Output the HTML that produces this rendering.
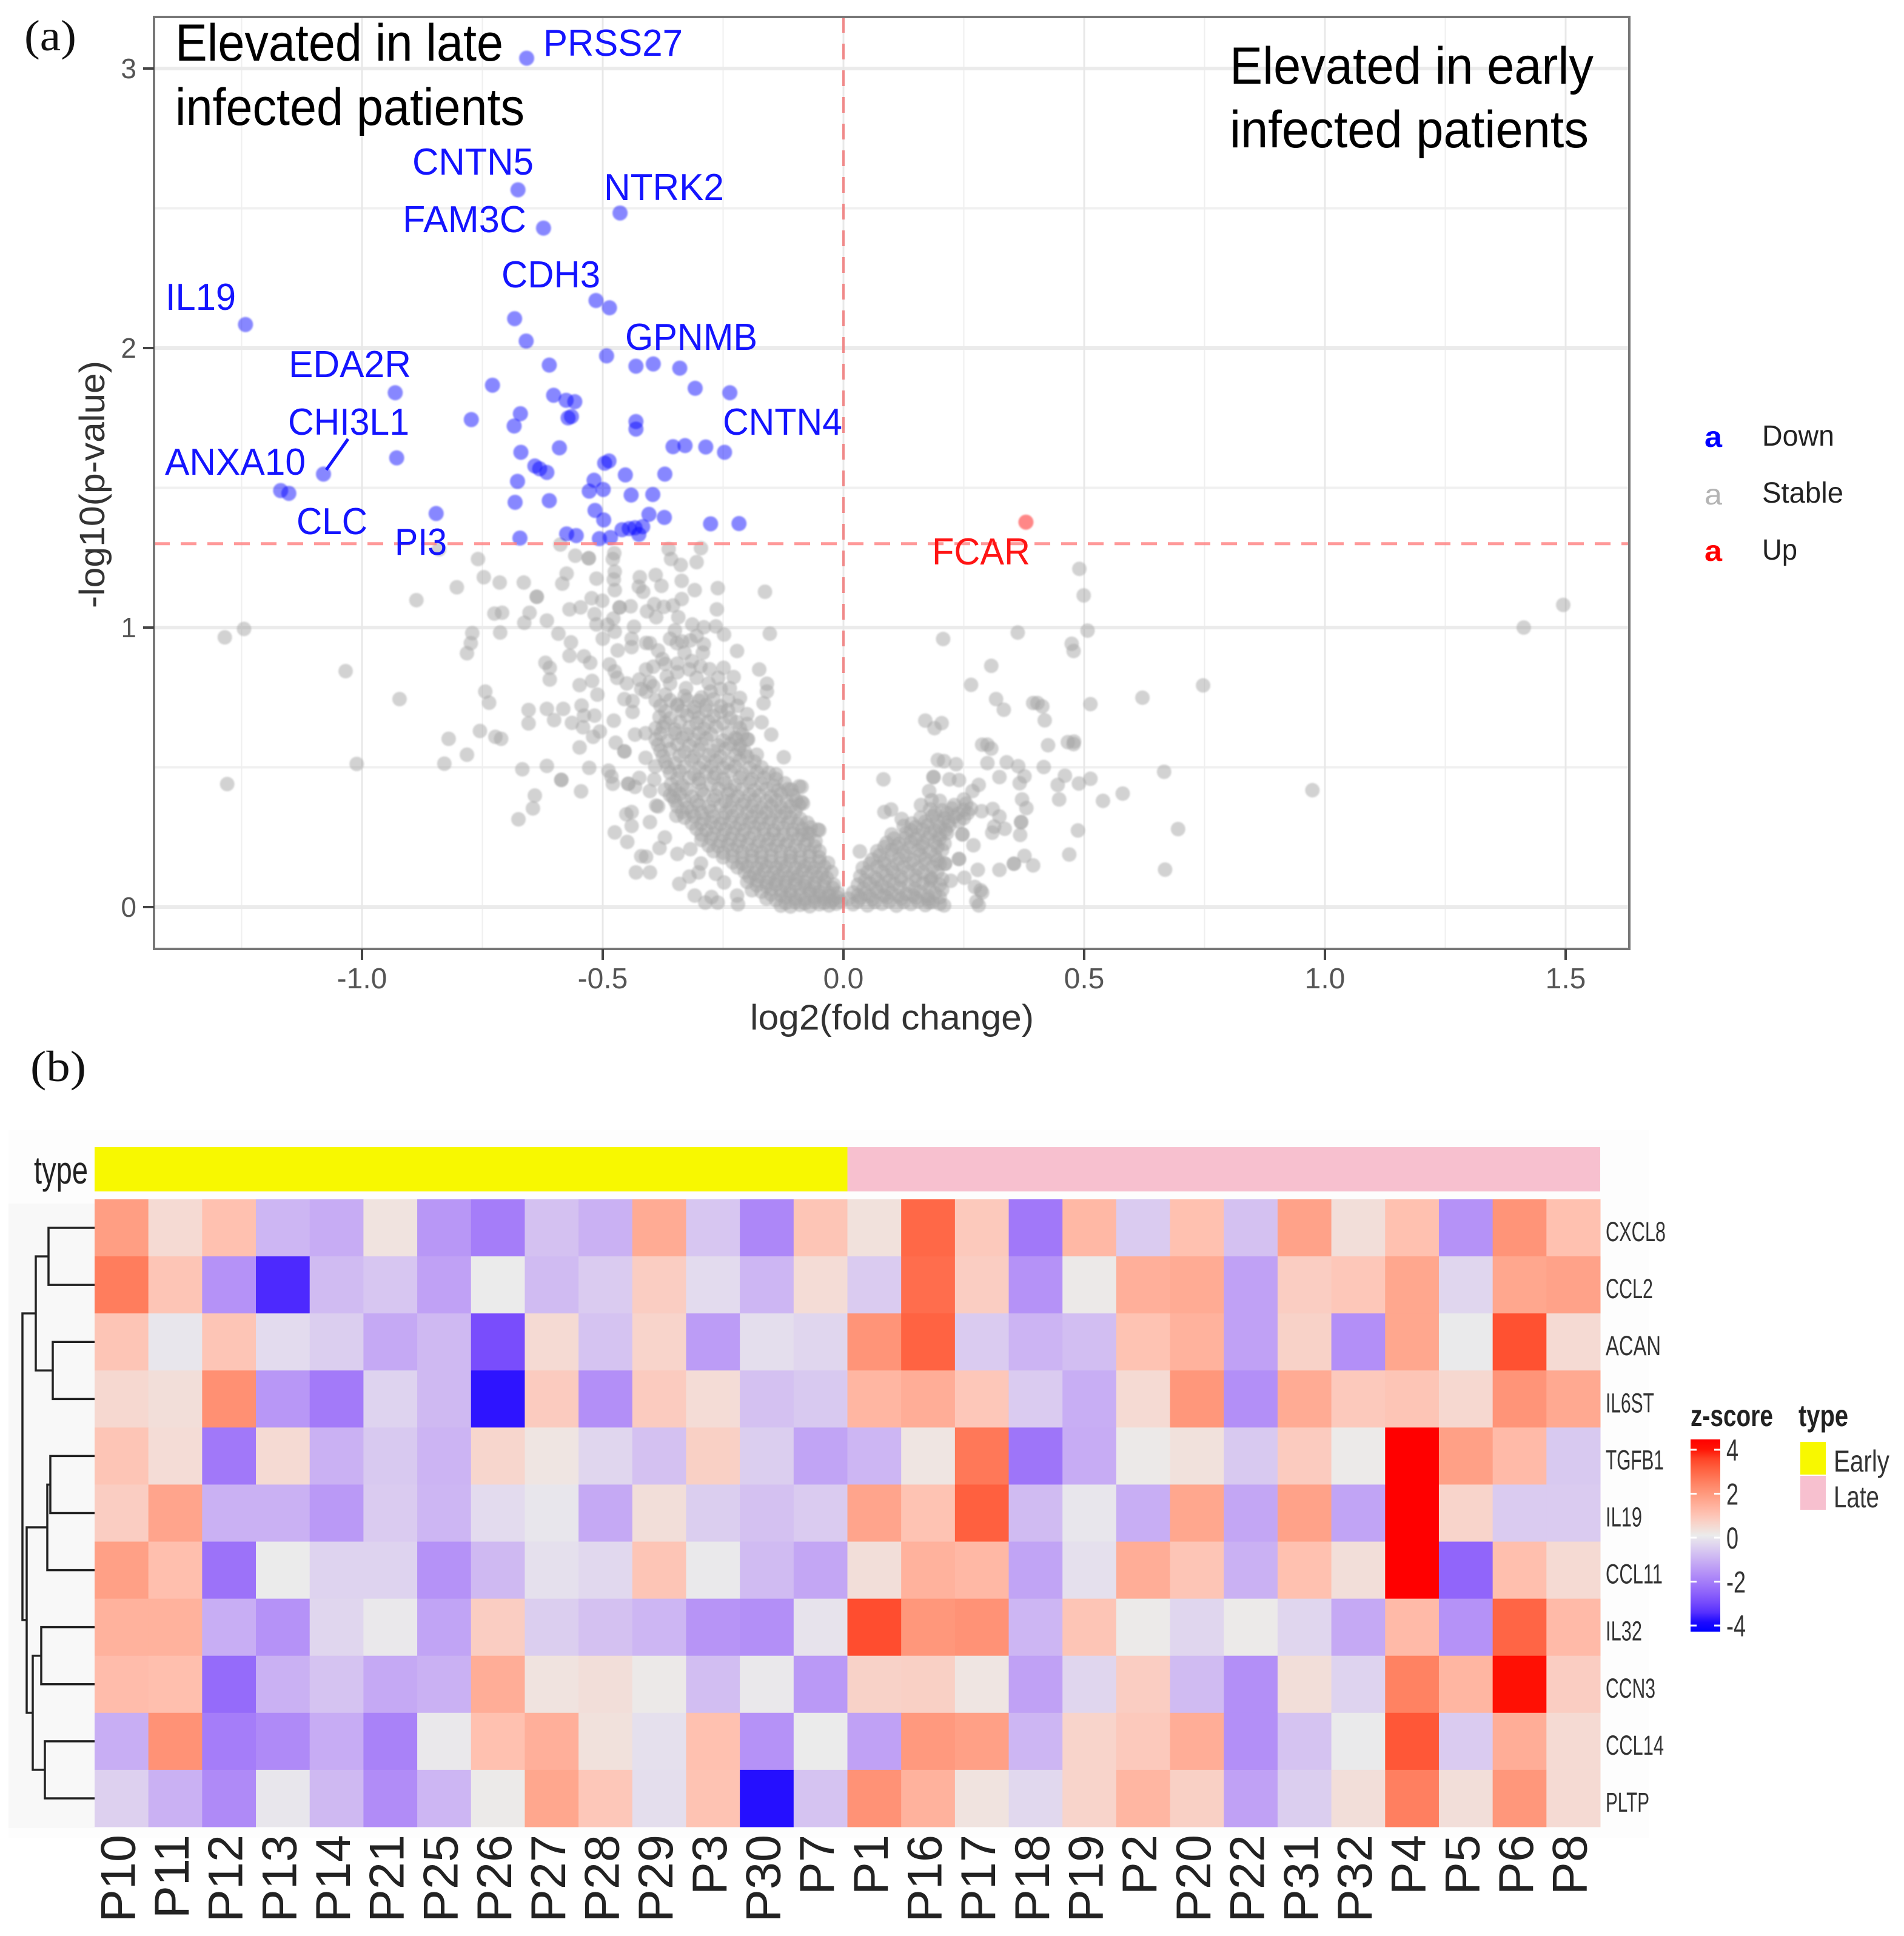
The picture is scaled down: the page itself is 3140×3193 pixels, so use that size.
<!DOCTYPE html>
<html lang="en">
<head>
<meta charset="utf-8">
<title>Volcano plot and heatmap</title>
<style>
html,body{margin:0;padding:0;background:#fff;}
svg{display:block;font-family:"Liberation Sans",sans-serif;}
</style>
</head>
<body>
<svg id="fig" xmlns="http://www.w3.org/2000/svg" width="3140" height="3193" viewBox="0 0 3140 3193">
<defs><filter id="soft" x="-5%" y="-5%" width="110%" height="110%"><feGaussianBlur stdDeviation="1.4"/></filter></defs>
<rect x="0" y="0" width="3140" height="3193" fill="#ffffff"/>
<g id="volcanoGrid"></g>
<g id="volcanoPoints" filter="url(#soft)"></g>
<g id="volcanoAxes"></g>
<text x="40" y="83" font-family="'Liberation Serif',serif" font-size="72" textLength="86" lengthAdjust="spacingAndGlyphs" fill="#111">(a)</text>
<text x="50" y="1783" font-family="'Liberation Serif',serif" font-size="72" textLength="92" lengthAdjust="spacingAndGlyphs" fill="#111">(b)</text>
<text x="289" y="100" font-size="86" textLength="541" lengthAdjust="spacingAndGlyphs" fill="#000">Elevated in late</text>
<text x="289" y="206" font-size="86" textLength="576" lengthAdjust="spacingAndGlyphs" fill="#000">infected patients</text>
<text x="2028" y="138" font-size="86" textLength="600" lengthAdjust="spacingAndGlyphs" fill="#000">Elevated in early</text>
<text x="2028" y="243" font-size="86" textLength="592" lengthAdjust="spacingAndGlyphs" fill="#000">infected patients</text>
<g font-size="62" fill="#1414ff">
<text x="896" y="92" textLength="230" lengthAdjust="spacingAndGlyphs">PRSS27</text>
<text x="680" y="288" textLength="200" lengthAdjust="spacingAndGlyphs">CNTN5</text>
<text x="996" y="330" textLength="198" lengthAdjust="spacingAndGlyphs">NTRK2</text>
<text x="664" y="383" textLength="204" lengthAdjust="spacingAndGlyphs">FAM3C</text>
<text x="827" y="474" textLength="163" lengthAdjust="spacingAndGlyphs">CDH3</text>
<text x="273" y="511" textLength="116" lengthAdjust="spacingAndGlyphs">IL19</text>
<text x="1031" y="577" textLength="218" lengthAdjust="spacingAndGlyphs">GPNMB</text>
<text x="476" y="622" textLength="202" lengthAdjust="spacingAndGlyphs">EDA2R</text>
<text x="475" y="717" textLength="200" lengthAdjust="spacingAndGlyphs">CHI3L1</text>
<text x="1192" y="717" textLength="197" lengthAdjust="spacingAndGlyphs">CNTN4</text>
<text x="272" y="783" textLength="232" lengthAdjust="spacingAndGlyphs">ANXA10</text>
<text x="489" y="881" textLength="117" lengthAdjust="spacingAndGlyphs">CLC</text>
<text x="651" y="915" textLength="86" lengthAdjust="spacingAndGlyphs">PI3</text>
<text x="1537" y="931" textLength="162" lengthAdjust="spacingAndGlyphs" fill="#ff1414">FCAR</text>
<line x1="574" y1="724" x2="538" y2="775" stroke="#1414ff" stroke-width="5"/>
</g>
<text x="1237" y="1698" font-size="58" textLength="468" lengthAdjust="spacingAndGlyphs" fill="#333">log2(fold change)</text>
<text transform="translate(172,1003) rotate(-90)" x="0" y="0" font-size="58" textLength="408" lengthAdjust="spacingAndGlyphs" fill="#333">-log10(p-value)</text>
<g font-size="48">
<text x="2811" y="737" textLength="29" lengthAdjust="spacingAndGlyphs" fill="#0000ff" font-weight="bold">a</text>
<text x="2906" y="735" textLength="119" lengthAdjust="spacingAndGlyphs" fill="#222">Down</text>
<text x="2811" y="832" textLength="29" lengthAdjust="spacingAndGlyphs" fill="#b4b4b4">a</text>
<text x="2906" y="829" textLength="134" lengthAdjust="spacingAndGlyphs" fill="#222">Stable</text>
<text x="2811" y="925" textLength="29" lengthAdjust="spacingAndGlyphs" fill="#ff0000" font-weight="bold">a</text>
<text x="2906" y="923" textLength="58" lengthAdjust="spacingAndGlyphs" fill="#222">Up</text>
</g>
<rect x="14" y="1864" width="2706" height="1167" fill="#fdfdfd"/>
<rect x="14" y="1985" width="142" height="1030" fill="#f8f8f8"/>
<g id="dendrogram" fill="none" stroke="#222" stroke-width="3.5"></g>
<text x="56" y="1952" font-size="64" textLength="89" lengthAdjust="spacingAndGlyphs" fill="#222">type</text>
<g id="heatmap"></g>
<g>
<text x="2788" y="2352" font-size="50" font-weight="bold" textLength="136" lengthAdjust="spacingAndGlyphs" fill="#222">z-score</text>
<text x="2966" y="2352" font-size="50" font-weight="bold" textLength="82" lengthAdjust="spacingAndGlyphs" fill="#222">type</text>
<defs><linearGradient id="zGradient" x1="0" y1="0" x2="0" y2="1"></linearGradient></defs>
<rect x="2788" y="2374" width="49" height="317" fill="url(#zGradient)"/>
<g id="colorbarTicks"></g>
<rect x="2969" y="2378" width="42" height="54" fill="#f8f800"/>
<rect x="2969" y="2434" width="42" height="56" fill="#f7c0cf"/>
<text x="3024" y="2427" font-size="50" textLength="92" lengthAdjust="spacingAndGlyphs" fill="#333">Early</text>
<text x="3024" y="2486" font-size="50" textLength="75" lengthAdjust="spacingAndGlyphs" fill="#333">Late</text>
</g>
</svg>
<script>
// ---------- Volcano data (flat x,y pairs: log2 fold change, -log10 p) ----------
const xTickValues = [-1.0, -0.5, 0.0, 0.5, 1.0, 1.5];
const xTickLabels = ["-1.0", "-0.5", "0.0", "0.5", "1.0", "1.5"];
const xMinorValues = [-1.25, -0.75, -0.25, 0.25, 0.75, 1.25];
const yTickValues = [0, 1, 2, 3];
const yTickLabels = ["0", "1", "2", "3"];
const yMinorValues = [0.5, 1.5, 2.5];
const pThreshold = [1.3];
const fcThreshold = [0];
const upPairs = [0.379,1.377];
const downPairs = [
-0.658,3.037,-0.676,2.566,-0.464,2.483,-0.623,2.429,-0.514,2.170,-0.486,2.144,-0.683,2.105,-0.659,2.025,-1.242,2.084,
-0.492,1.972,-0.611,1.939,-0.431,1.935,-0.395,1.943,-0.34,1.928,-0.729,1.867,-0.308,1.856,-0.236,1.84,-0.931,1.84,
-0.602,1.831,-0.576,1.813,-0.558,1.808,-0.671,1.765,-0.773,1.744,-0.684,1.721,-0.565,1.755,-0.572,1.75,-0.431,1.737,
-0.431,1.71,-0.354,1.647,-0.329,1.651,-0.286,1.646,-0.247,1.627,-0.59,1.643,-0.67,1.627,-0.928,1.607,-1.08,1.549,
-0.641,1.578,-0.631,1.568,-0.616,1.555,-0.487,1.596,-0.496,1.588,-0.453,1.546,-0.371,1.549,-0.518,1.527,-0.677,1.523,
-0.528,1.488,-0.499,1.494,-0.441,1.474,-0.396,1.476,-1.169,1.49,-1.152,1.48,-0.682,1.448,-0.611,1.454,-0.846,1.408,
-0.516,1.419,-0.498,1.385,-0.404,1.405,-0.372,1.394,-0.276,1.371,-0.217,1.372,-0.672,1.32,-0.575,1.335,-0.555,1.329,
-0.507,1.318,-0.484,1.322,-0.46,1.35,-0.445,1.354,-0.433,1.357,-0.417,1.361,-0.425,1.333];
const stableLeftSparse = [
-1.285,0.965,-1.245,0.995,-1.28,0.44,-1.034,0.844,-0.922,0.744,-1.011,0.512,-0.887,1.098,-0.803,1.144,-0.759,1.245,-0.747,1.18,
-0.714,1.161,-0.664,1.161,-0.725,1.05,-0.709,1.053,-0.713,0.982,-0.771,0.98,-0.774,0.944,-0.782,0.908,-0.744,0.771,
-0.736,0.731,-0.82,0.602,-0.782,0.545,-0.829,0.513,-0.755,0.63,-0.723,0.609,-0.711,0.602,-0.667,0.493,-0.616,0.505,
-0.586,0.455,-0.586,0.455,-0.545,0.414,-0.641,0.399,-0.645,0.353,-0.675,0.314,-0.654,0.705,-0.616,0.709,-0.582,0.709,
-0.601,0.669,-0.654,0.657,-0.619,0.874,-0.61,0.856,-0.61,0.814,-0.548,0.794,-0.522,0.809,-0.511,0.76,-0.544,0.721,
-0.539,0.685,-0.564,0.659,-0.517,0.685,-0.541,0.643,-0.506,0.628,-0.52,0.609,-0.548,0.571,-0.473,0.588,-0.455,0.557,
-0.455,0.557,-0.477,0.667,-0.528,0.498,-0.488,0.488,-0.482,0.467,-0.479,0.441,-0.433,0.617,-0.411,0.622,-0.411,0.534,-0.391,0.503,
-0.84,1.28];
const stableTopBand = [
-0.588,1.297,-0.557,1.257,-0.529,1.248,-0.529,1.248,-0.476,1.266,-0.479,1.245,-0.363,1.281,-0.296,1.284,-0.358,1.245,
-0.305,1.234,-0.338,1.224,-0.575,1.193,-0.584,1.157,-0.513,1.175,-0.475,1.2,-0.477,1.172,-0.475,1.134,-0.423,1.18,
-0.425,1.146,-0.416,1.128,-0.39,1.188,-0.378,1.149,-0.336,1.167,-0.309,1.134,-0.261,1.141,-0.163,1.128,-0.336,1.102,
-0.637,1.11,-0.637,1.11,-0.652,1.053,-0.663,1.017,-0.616,1.025,-0.569,1.065,-0.546,1.072,-0.523,1.105,-0.501,1.096,
-0.517,1.048,-0.513,1.011,-0.442,1.076,-0.465,1.072,-0.465,1.072,-0.478,1.032,-0.435,1.003,-0.408,1.058,-0.393,1.084,
-0.389,1.037,-0.373,1.074,-0.354,1.079,-0.343,1.037,-0.263,1.065,-0.314,1.011,-0.29,1.001,-0.265,1.004,-0.248,0.975,
-0.153,0.978,-0.221,0.916,-0.592,0.978,-0.566,0.947,-0.569,0.899,-0.539,0.897,-0.526,0.874,-0.5,0.96,-0.469,0.918,
-0.44,0.96,-0.486,0.868,-0.475,0.843,-0.402,0.944,-0.385,0.918,-0.376,0.887,-0.345,0.871,-0.318,0.954,-0.346,0.944,
-0.292,0.91,-0.297,0.861,-0.278,0.851,-0.249,0.856,-0.228,0.823,-0.175,0.85,-0.159,0.799,-0.159,0.771,-0.166,0.729,
-0.236,0.783,-0.239,0.74,-0.215,0.748,-0.367,0.825,-0.424,0.814,-0.402,0.804,-0.438,0.737,-0.455,0.744,-0.438,0.698,
-0.327,0.783,-0.276,0.771,-0.305,0.82,-0.17,0.661,-0.15,0.617,-0.124,0.536,-0.217,0.565,-0.222,0.6,-0.198,0.6,
-0.41,0.945,-0.35,0.99,-0.49,1.01,-0.475,0.985,-0.44,0.93,-0.335,0.95,-0.41,0.77,-0.39,0.74,-0.42,0.78,-0.345,0.72];
const stableLeftWing = [
-0.341,0.083,-0.309,0.041,-0.287,0.016,-0.261,0.016,-0.274,0.036,-0.219,0.01,-0.221,0.041,-0.296,0.156,-0.301,0.124,
-0.265,0.119,-0.248,0.088,-0.32,0.109,-0.345,0.19,-0.382,0.211,-0.318,0.207,-0.42,0.182,-0.41,0.18,-0.431,0.124,-0.402,0.124,
-0.475,0.267,-0.449,0.233,-0.371,0.249,-0.402,0.304,-0.44,0.29,-0.451,0.332,-0.44,0.34,-0.347,0.327,-0.389,0.363,-0.385,0.36,
-0.447,0.441,-0.447,0.441,-0.433,0.43,-0.402,0.415,-0.371,0.42,-0.424,0.462,-0.393,0.456,-0.354,0.394,-0.108,0.42,
-0.087,0.43,-0.084,0.371,-0.05,0.275,-0.075,0.265];
const stableLeftDense = [
-0.13,0.005,-0.11,0.002,-0.09,0.008,-0.07,0.003,-0.05,0.01,-0.03,0.006,-0.015,0.012,
-0.16,0.03,-0.14,0.025,-0.12,0.035,-0.1,0.03,-0.08,0.028,-0.06,0.035,-0.04,0.03,-0.02,0.027,-0.005,0.02,
-0.19,0.06,-0.17,0.055,-0.15,0.065,-0.13,0.06,-0.11,0.058,-0.09,0.066,-0.07,0.06,-0.05,0.055,-0.03,0.05,-0.012,0.05,
-0.2,0.09,-0.18,0.095,-0.16,0.088,-0.14,0.094,-0.12,0.09,-0.1,0.097,-0.08,0.09,-0.06,0.086,-0.04,0.093,-0.02,0.08,
-0.205,0.125,-0.185,0.12,-0.165,0.13,-0.145,0.122,-0.125,0.128,-0.105,0.12,-0.085,0.13,-0.065,0.124,-0.045,0.119,-0.025,0.125,
-0.23,0.16,-0.21,0.155,-0.19,0.165,-0.17,0.158,-0.15,0.163,-0.13,0.156,-0.11,0.166,-0.09,0.16,-0.07,0.154,-0.05,0.163,-0.032,0.158,
-0.27,0.2,-0.25,0.195,-0.23,0.205,-0.21,0.198,-0.19,0.203,-0.17,0.196,-0.15,0.206,-0.13,0.2,-0.11,0.194,-0.09,0.203,-0.07,0.197,-0.05,0.2,
-0.295,0.24,-0.275,0.245,-0.255,0.235,-0.235,0.243,-0.215,0.238,-0.195,0.246,-0.175,0.236,-0.155,0.243,-0.135,0.24,-0.115,0.235,-0.095,0.245,-0.075,0.24,-0.058,0.236,
-0.305,0.28,-0.285,0.275,-0.265,0.285,-0.245,0.278,-0.225,0.283,-0.205,0.276,-0.185,0.286,-0.165,0.28,-0.145,0.274,-0.125,0.283,-0.105,0.277,-0.085,0.28,-0.068,0.285,
-0.33,0.32,-0.31,0.325,-0.29,0.315,-0.27,0.323,-0.25,0.318,-0.23,0.326,-0.21,0.316,-0.19,0.323,-0.17,0.32,-0.15,0.315,-0.13,0.325,-0.11,0.32,-0.09,0.316,
-0.345,0.36,-0.325,0.355,-0.3,0.365,-0.28,0.358,-0.255,0.363,-0.235,0.356,-0.21,0.366,-0.19,0.36,-0.17,0.354,-0.15,0.363,-0.13,0.357,-0.11,0.36,-0.092,0.365,
-0.36,0.4,-0.34,0.405,-0.315,0.395,-0.29,0.403,-0.265,0.398,-0.24,0.406,-0.22,0.396,-0.195,0.403,-0.175,0.4,-0.15,0.395,-0.13,0.405,-0.105,0.4,
-0.358,0.44,-0.335,0.435,-0.3,0.445,-0.275,0.438,-0.245,0.443,-0.225,0.436,-0.195,0.446,-0.17,0.44,-0.145,0.434,-0.122,0.443,
-0.36,0.48,-0.34,0.485,-0.31,0.475,-0.285,0.483,-0.265,0.478,-0.235,0.486,-0.21,0.476,-0.18,0.483,-0.155,0.48,-0.14,0.475,
-0.37,0.52,-0.35,0.515,-0.315,0.525,-0.29,0.518,-0.265,0.523,-0.24,0.516,-0.215,0.526,-0.185,0.52,
-0.38,0.56,-0.36,0.565,-0.33,0.555,-0.3,0.563,-0.27,0.558,-0.245,0.566,-0.205,0.556,
-0.39,0.6,-0.365,0.595,-0.335,0.605,-0.31,0.598,-0.285,0.603,-0.25,0.596,-0.225,0.605,-0.2,0.6,
-0.39,0.64,-0.375,0.645,-0.35,0.635,-0.32,0.643,-0.29,0.638,-0.265,0.646,-0.215,0.64,-0.2,0.655,
-0.382,0.68,-0.36,0.675,-0.325,0.685,-0.3,0.678,-0.27,0.683,-0.235,0.676,
-0.38,0.72,-0.345,0.725,-0.31,0.715,-0.285,0.723,-0.255,0.718,-0.37,0.76,-0.33,0.755,-0.295,0.75];
const stableLeftFill = [
-0.12,0.015,-0.1,0.018,-0.08,0.014,-0.06,0.02,-0.04,0.016,-0.025,0.02,-0.15,0.045,-0.13,0.042,-0.11,0.046,-0.09,0.044,-0.07,0.048,-0.05,0.042,-0.03,0.04,-0.012,0.034,
-0.18,0.078,-0.16,0.075,-0.14,0.08,-0.12,0.076,-0.1,0.08,-0.08,0.075,-0.06,0.072,-0.04,0.073,-0.022,0.068,
-0.195,0.108,-0.175,0.11,-0.155,0.105,-0.135,0.11,-0.115,0.106,-0.095,0.11,-0.075,0.106,-0.055,0.108,-0.035,0.105,
-0.22,0.142,-0.2,0.145,-0.18,0.14,-0.16,0.146,-0.14,0.141,-0.12,0.145,-0.1,0.14,-0.08,0.146,-0.06,0.14,-0.04,0.144,
-0.25,0.178,-0.23,0.182,-0.21,0.176,-0.19,0.182,-0.17,0.177,-0.15,0.182,-0.13,0.176,-0.11,0.18,-0.09,0.177,-0.07,0.182,-0.05,0.178,
-0.28,0.22,-0.26,0.218,-0.24,0.223,-0.22,0.218,-0.2,0.224,-0.18,0.217,-0.16,0.222,-0.14,0.218,-0.12,0.223,-0.1,0.218,-0.08,0.222,-0.06,0.217,
-0.295,0.26,-0.27,0.262,-0.25,0.258,-0.23,0.263,-0.21,0.258,-0.185,0.263,-0.165,0.258,-0.145,0.262,-0.125,0.258,-0.105,0.262,-0.085,0.258,-0.07,0.263,
-0.315,0.3,-0.295,0.298,-0.275,0.303,-0.255,0.298,-0.235,0.304,-0.215,0.297,-0.195,0.302,-0.175,0.298,-0.155,0.303,-0.135,0.298,-0.115,0.302,-0.095,0.297,-0.075,0.302,
-0.335,0.34,-0.315,0.342,-0.295,0.338,-0.275,0.343,-0.245,0.338,-0.22,0.343,-0.2,0.338,-0.18,0.342,-0.16,0.338,-0.14,0.342,-0.12,0.338,-0.1,0.342,
-0.35,0.38,-0.33,0.382,-0.305,0.378,-0.27,0.383,-0.245,0.378,-0.23,0.382,-0.205,0.378,-0.185,0.382,-0.16,0.378,-0.14,0.382,-0.118,0.378,-0.098,0.382,
-0.35,0.42,-0.325,0.422,-0.295,0.418,-0.26,0.423,-0.235,0.418,-0.21,0.422,-0.185,0.418,-0.16,0.423,-0.135,0.418,-0.115,0.422,
-0.345,0.46,-0.32,0.462,-0.3,0.458,-0.27,0.463,-0.25,0.458,-0.215,0.463,-0.19,0.458,-0.165,0.462,-0.14,0.458,
-0.365,0.5,-0.33,0.502,-0.3,0.498,-0.275,0.503,-0.25,0.498,-0.225,0.503,-0.195,0.498,-0.17,0.5,
-0.375,0.54,-0.34,0.542,-0.31,0.538,-0.28,0.543,-0.255,0.538,-0.225,0.543,-0.2,0.538,-0.18,0.545,
-0.385,0.58,-0.345,0.582,-0.32,0.578,-0.295,0.583,-0.26,0.578,-0.235,0.583,-0.215,0.578,
-0.38,0.62,-0.35,0.622,-0.325,0.618,-0.3,0.623,-0.275,0.618,-0.24,0.623,-0.21,0.618,
-0.37,0.66,-0.34,0.662,-0.305,0.658,-0.28,0.663,-0.25,0.658,-0.222,0.662,
-0.37,0.7,-0.335,0.702,-0.31,0.698,-0.285,0.703,-0.255,0.698,-0.24,0.705,
-0.36,0.74,-0.325,0.742,-0.3,0.738,-0.27,0.743,-0.41,0.85,-0.395,0.86,-0.37,0.87,-0.345,0.84,-0.315,0.88,-0.29,0.94,-0.33,0.91,-0.36,0.96,-0.305,0.97,
-0.47,0.82,-0.45,0.8,-0.395,0.79,-0.36,0.8,-0.32,0.85,-0.28,0.8,-0.26,0.82,-0.255,0.78,-0.22,0.72,-0.2,0.69];
const stableRightSparse = [
0.49,1.21,0.499,1.115,1.495,1.081,1.413,1.0,0.507,0.989,0.362,0.982,0.207,0.959,0.474,0.942,0.478,0.916,0.307,0.863,
0.265,0.795,0.747,0.793,0.621,0.749,0.317,0.744,0.333,0.706,0.394,0.73,0.403,0.73,0.413,0.718,0.418,0.668,0.513,0.726,
0.17,0.667,0.204,0.658,0.189,0.64,0.288,0.581,0.299,0.581,0.307,0.567,0.425,0.579,0.466,0.59,0.479,0.592,0.478,0.583,
0.196,0.526,0.209,0.522,0.234,0.511,0.299,0.515,0.339,0.518,0.363,0.504,0.416,0.501,0.666,0.484,0.083,0.457,0.46,0.47,
0.187,0.465,0.187,0.465,0.22,0.457,0.24,0.454,0.324,0.465,0.376,0.468,0.366,0.443,0.445,0.437,0.513,0.459,0.489,0.442,
0.974,0.418,0.58,0.406,0.539,0.38,0.448,0.385,0.281,0.437,0.268,0.415,0.371,0.385,0.38,0.354,0.287,0.343,0.31,0.351,
0.324,0.324,0.695,0.279,0.487,0.274,0.369,0.304,0.369,0.304,0.313,0.288,0.335,0.28,0.309,0.266,0.367,0.258,0.469,0.188,
0.376,0.183,0.354,0.155,0.354,0.155,0.394,0.149,0.324,0.133,0.668,0.134,0.27,0.221,0.247,0.26,0.247,0.26,0.24,0.172,
0.24,0.172,0.211,0.155,0.211,0.155,0.279,0.133,0.273,0.072,0.288,0.052,0.281,0.006,0.209,0.006,0.223,0.094,0.183,0.1,
0.251,0.105,0.178,0.017,0.099,0.349,0.085,0.34,0.121,0.315,0.142,0.299,0.161,0.365,0.178,0.415,0.183,0.382,0.034,0.199,
-0.053,0.277,-0.092,0.432,-0.087,0.376,0.285,0.06,0.276,0.02];
const stableRightDense = [
0.02,0.01,0.05,0.006,0.08,0.012,0.11,0.005,0.14,0.011,0.17,0.007,0.2,0.012,
0.01,0.03,0.035,0.033,0.06,0.028,0.09,0.035,0.12,0.03,0.15,0.034,0.175,0.028,
0.02,0.052,0.045,0.048,0.07,0.055,0.1,0.05,0.13,0.047,0.16,0.054,0.19,0.05,
0.03,0.08,0.055,0.084,0.08,0.077,0.105,0.083,0.135,0.078,0.165,0.085,0.2,0.08,
0.035,0.11,0.065,0.106,0.09,0.113,0.12,0.108,0.15,0.112,0.18,0.107,
0.04,0.14,0.07,0.145,0.1,0.137,0.125,0.143,0.155,0.138,0.185,0.144,
0.06,0.17,0.085,0.166,0.115,0.173,0.145,0.168,0.17,0.172,0.195,0.167,
0.07,0.2,0.1,0.205,0.125,0.197,0.155,0.203,0.18,0.198,0.205,0.204,
0.09,0.23,0.115,0.226,0.14,0.233,0.165,0.228,0.19,0.232,0.21,0.227,
0.1,0.26,0.13,0.265,0.155,0.257,0.18,0.263,0.2,0.258,0.215,0.265,
0.125,0.29,0.15,0.286,0.175,0.293,0.2,0.288,0.22,0.292,
0.16,0.32,0.185,0.325,0.21,0.317,0.23,0.323,0.25,0.318,
0.18,0.35,0.205,0.346,0.225,0.353,0.25,0.348,0.265,0.352,
0.2,0.38,0.25,0.385];
const stableRightFill = [
0.03,0.02,0.065,0.018,0.095,0.02,0.125,0.018,0.155,0.02,0.185,0.018,0.03,0.042,0.055,0.04,0.085,0.042,0.115,0.04,0.145,0.042,0.175,0.04,0.2,0.035,
0.042,0.066,0.068,0.068,0.092,0.065,0.118,0.068,0.148,0.065,0.178,0.068,0.205,0.062,0.045,0.095,0.07,0.098,0.095,0.094,0.12,0.096,0.15,0.095,0.18,0.094,0.205,0.1,
0.05,0.125,0.08,0.126,0.105,0.124,0.135,0.126,0.165,0.124,0.195,0.126,0.055,0.155,0.085,0.156,0.112,0.154,0.14,0.156,0.17,0.154,0.2,0.155,
0.075,0.185,0.1,0.186,0.13,0.184,0.16,0.186,0.19,0.185,0.085,0.215,0.11,0.216,0.138,0.214,0.165,0.216,0.195,0.215,
0.105,0.245,0.128,0.246,0.15,0.244,0.175,0.246,0.2,0.244,0.14,0.275,0.165,0.276,0.19,0.274,0.212,0.276,0.17,0.305,0.195,0.306,0.218,0.304,0.24,0.306,
0.19,0.335,0.215,0.336,0.238,0.334,0.258,0.336,0.23,0.365,0.255,0.37];
const stablePairs = [].concat(stableLeftSparse, stableTopBand, stableLeftWing, stableLeftDense, stableLeftFill, stableRightSparse, stableRightDense, stableRightFill);

// ---------- Heatmap data ----------
const patients = ["P10","P11","P12","P13","P14","P21","P25","P26","P27","P28","P29","P3","P30","P7","P1","P16","P17","P18","P19","P2","P20","P22","P31","P32","P4","P5","P6","P8"];
const earlyCount = [14];
const genes = ["CXCL8","CCL2","ACAN","IL6ST","TGFB1","IL19","CCL11","IL32","CCN3","CCL14","PLTP"];
const geneLabelWidths = [99,78,91,80,96,60,94,60,82,96,72];
const zCXCL8 = [1.8,0.4,1,-1,-1.2,0.2,-1.6,-2.1,-0.8,-1.1,1.5,-0.7,-1.9,0.9,0.25,2.9,0.8,-2.2,1.2,-0.6,1,-0.8,1.7,0.3,1,-1.7,2,1];
const zCCL2 = [2.5,0.9,-1.7,-3.6,-0.9,-0.7,-1.4,0,-0.9,-0.6,0.7,-0.3,-1,0.35,-0.6,2.8,0.7,-1.7,0.05,1.4,1.5,-1.4,0.7,0.85,1.6,-0.4,1.6,1.7];
const zACAN = [0.9,-0.1,0.9,-0.3,-0.55,-1.25,-0.95,-3,0.4,-0.75,0.55,-1.5,-0.25,-0.4,2,3,-0.6,-1.05,-0.85,0.95,1.35,-1.4,0.6,-1.75,1.6,-0.02,3.3,0.4];
const zIL6ST = [0.45,0.3,2.1,-1.6,-2.15,-0.45,-0.95,-3.85,0.75,-1.75,0.75,0.35,-0.8,-0.65,1.25,1.45,0.85,-0.6,-1.15,0.4,1.95,-1.75,1.5,0.8,0.9,0.45,2,1.55];
const zTGFB1 = [0.9,0.35,-2.2,0.4,-1.1,-0.65,-1.05,0.5,0.15,-0.4,-0.8,0.65,-0.55,-1.35,-1,0.15,2.6,-2.25,-1.2,0.05,0.25,-0.65,0.75,0.03,4,1.75,1.15,-0.65];
const zIL19 = [0.7,1.65,-1.1,-1.1,-1.55,-0.6,-1,-0.3,-0.1,-1.25,0.3,-0.55,-0.8,-0.6,1.65,0.95,3.05,-0.9,-0.1,-1.15,1.6,-1.3,1.7,-1.35,4,0.55,-0.6,-0.6];
const zCCL11 = [1.75,1.05,-2.3,0,-0.45,-0.45,-1.7,-0.95,-0.2,-0.35,0.9,-0.03,-0.9,-1.3,0.3,1.35,1.2,-1.35,-0.2,1.45,0.9,-1.1,1,0.3,4,-2.55,1.05,0.4];
const zIL32 = [1.35,1.35,-1.15,-1.7,-0.4,-0.05,-1.35,0.7,-0.55,-0.8,-1,-1.65,-1.75,-0.15,3.35,1.95,2.05,-1,0.9,0.03,-0.4,0.03,-0.4,-1.25,1.15,-1.7,2.95,1.15];
const zCCN3 = [1.1,1.05,-2.45,-1.1,-0.75,-1.25,-1.1,1.45,0.2,0.3,0.05,-0.85,-0.05,-1.55,0.6,0.65,0.15,-1.4,-0.4,0.7,-0.9,-1.75,0.3,-0.45,2.4,1.25,3.95,0.7];
const zCCL14 = [-1.15,2.05,-2.1,-1.85,-1.2,-2,-0.05,1,1.4,0.25,-0.2,1,-1.7,0,-1.4,1.9,1.75,-1,0.55,0.8,1.45,-1.75,-0.75,-0.02,3.2,-0.6,1.45,0.4];
const zPLTP = [-0.5,-1.1,-1.85,-0.1,-0.95,-1.8,-1,0.03,1.6,0.85,-0.25,0.95,-3.9,-0.75,2.05,1.35,0.2,-0.35,0.55,1.25,0.65,-1.4,-0.55,0.3,2.45,0.3,1.95,0.4];
const heatValues = [zCXCL8,zCCL2,zACAN,zIL6ST,zTGFB1,zIL19,zCCL11,zIL32,zCCN3,zCCL14,zPLTP];
const colorbarTickValues = [4,2,0,-2,-4];
const colorbarTickLabels = ["4","2","0","-2","-4"];

// ---------- Scales ----------
const NS = "http://www.w3.org/2000/svg";
function xScale(v){ return 1391 + 794 * v; }
function yScale(v){ return 1496 - 461 * v; }
function mk(tag, parent, attrs){
  const el = document.createElementNS(NS, tag);
  for (const k in attrs) el.setAttribute(k, attrs[k]);
  parent.appendChild(el);
  return el;
}
function rgb2lab(c){
  const f = c.map(v => { v/=255; return v>0.04045 ? Math.pow((v+0.055)/1.055,2.4) : v/12.92; });
  const X=(0.4124*f[0]+0.3576*f[1]+0.1805*f[2])/0.95047, Y=0.2126*f[0]+0.7152*f[1]+0.0722*f[2], Z=(0.0193*f[0]+0.1192*f[1]+0.9505*f[2])/1.08883;
  const g = t => t>0.008856 ? Math.cbrt(t) : 7.787*t+16/116;
  return [116*g(Y)-16, 500*(g(X)-g(Y)), 200*(g(Y)-g(Z))];
}
function lab2rgb(l){
  const fy=(l[0]+16)/116, fx=l[1]/500+fy, fz=fy-l[2]/200;
  const g = t => t*t*t>0.008856 ? t*t*t : (t-16/116)/7.787;
  const X=g(fx)*0.95047, Y=g(fy), Z=g(fz)*1.08883;
  const r=[3.2406*X-1.5372*Y-0.4986*Z, -0.9689*X+1.8758*Y+0.0415*Z, 0.0557*X-0.2040*Y+1.0570*Z];
  return r.map(v => { v = v>0.0031308 ? 1.055*Math.pow(v,1/2.4)-0.055 : 12.92*v; return Math.max(0,Math.min(255,Math.round(v*255))); });
}
const labBlue = rgb2lab([0,0,255]), labMid = rgb2lab([235,235,235]), labRed = rgb2lab([255,0,0]);
function zColor(z){
  const t = Math.max(-1, Math.min(1, z/4));
  const end = t<0 ? labBlue : labRed, a = Math.abs(t);
  const c = lab2rgb(labMid.map((v,i)=>v+(end[i]-v)*a));
  return "rgb("+c.join(",")+")";
}

// ---------- Volcano grid ----------
const grid = document.getElementById("volcanoGrid");
const PL=254, PR=2687, PT=28, PB=1565;
yMinorValues.forEach(v=>{
  const el = mk("line", grid, {x1:PL,x2:PR,y1:yScale(v),y2:yScale(v),stroke:"#f0f0f0","stroke-width":4});
  
  
});
xMinorValues.forEach(v=>{
  const el = mk("line", grid, {x1:xScale(v),x2:xScale(v),y1:PT,y2:PB,stroke:"#efefef","stroke-width":2});
  
  
});
yTickValues.forEach(v=>{
  const el = mk("line", grid, {x1:PL,x2:PR,y1:yScale(v),y2:yScale(v),stroke:"#ebebeb","stroke-width":6});
  
  
});
xTickValues.forEach(v=>{
  const el = mk("line", grid, {x1:xScale(v),x2:xScale(v),y1:PT,y2:PB,stroke:"#e8e8e8","stroke-width":3});
  
  
});

// ---------- Points ----------
const ptsG = document.getElementById("volcanoPoints");
function drawPairs(pairs, fill, op, r, name){
  for (let i=0;i+1<pairs.length;i+=2){
    const el = mk("ellipse", ptsG, {cx:xScale(pairs[i]),cy:yScale(pairs[i+1]),rx:r,ry:r,fill:fill,"fill-opacity":op});
    
    
  }
}
drawPairs(stablePairs, "#a6a6a6", 0.5, 12, "point-stable");
drawPairs(downPairs, "#0000ff", 0.47, 12.5, "point-down");
drawPairs(upPairs, "#ff0000", 0.47, 12.5, "point-up");

// ---------- Threshold lines + axes ----------
const axes = document.getElementById("volcanoAxes");
pThreshold.forEach(v=>{
  const el = mk("line", axes, {x1:PL,x2:PR,y1:yScale(v),y2:yScale(v),stroke:"#ff7f7f","stroke-opacity":0.8,"stroke-width":5,"stroke-dasharray":"26 18"});
  
  
});
fcThreshold.forEach(v=>{
  const el = mk("line", axes, {x1:xScale(v),x2:xScale(v),y1:PT,y2:PB,stroke:"#f07070","stroke-opacity":0.8,"stroke-width":4,"stroke-dasharray":"26 18"});
  
  
});
const frame = mk("rect", axes, {x:PL,y:PT,width:PR-PL,height:PB-PT,fill:"none",stroke:"#777","stroke-width":4});


xTickValues.forEach((v,i)=>{
  const t = mk("line", axes, {x1:xScale(v),x2:xScale(v),y1:PB,y2:PB+18,stroke:"#444","stroke-width":4});
  
  
  const l = mk("text", axes, {x:xScale(v),y:1630,"text-anchor":"middle","font-size":48,fill:"#555"});
  
  
  l.textContent = xTickLabels[i];
});
yTickValues.forEach((v,i)=>{
  const t = mk("line", axes, {x1:PL-18,x2:PL,y1:yScale(v),y2:yScale(v),stroke:"#444","stroke-width":4});
  
  
  const l = mk("text", axes, {x:225,y:yScale(v)+16,"text-anchor":"end","font-size":46,fill:"#555"});
  
  
  l.textContent = yTickLabels[i];
});

// ---------- Heatmap ----------
const HL=156, HR=2639, HT=1978, HB=3013;
const cw=(HR-HL)/patients.length, ch=(HB-HT)/genes.length;
const hm = document.getElementById("heatmap");
const annEarly = mk("rect", hm, {x:HL,y:1892,width:cw*earlyCount[0],height:73,fill:"#f8f800"});


const annLate = mk("rect", hm, {x:HL+cw*earlyCount[0],y:1892,width:cw*(patients.length-earlyCount[0]),height:73,fill:"#f7c0cf"});


heatValues.forEach((row,r)=>{
  row.forEach((z,c)=>{
    const cell = mk("rect", hm, {x:HL+c*cw,y:HT+r*ch,width:cw+0.5,height:ch+0.5,fill:zColor(z)});
    
    
  });
  const lab = mk("text", hm, {x:2648,y:HT+(r+0.5)*ch+22,"font-size":45,fill:"#333",textLength:geneLabelWidths[r],lengthAdjust:"spacingAndGlyphs"});
  
  
  lab.textContent = genes[r];
});
patients.forEach((p,c)=>{
  const cx = HL+(c+0.5)*cw+22;
  const t = mk("text", hm, {transform:"translate("+cx+",3026) rotate(-90)",x:0,y:0,"text-anchor":"end","font-size":81,fill:"#222"});
  
  
  t.textContent = p;
});

// ---------- Dendrogram ----------
const dg = document.getElementById("dendrogram");
function rowY(i){ return HT+(i+0.5)*ch; }
function bracket(y1,x1,y2,x2,xm){
  const el = mk("path", dg, {d:"M"+x1+" "+y1+"H"+xm+"V"+y2+"H"+x2});
  
  
  return (y1+y2)/2;
}
const xA=80,xB=87,xC=83,xD=78,xE=68,xF=74,xAB=59,xEF=54,xCE=44,xRoot=37;
const yA=bracket(rowY(0),HL,rowY(1),HL,xA);
const yB=bracket(rowY(2),HL,rowY(3),HL,xB);
const yAB=bracket(yA,xA,yB,xB,xAB);
const yC=bracket(rowY(4),HL,rowY(5),HL,xC);
const yD=bracket(yC,xC,rowY(6),HL,xD);
const yE=bracket(rowY(7),HL,rowY(8),HL,xE);
const yF=bracket(rowY(9),HL,rowY(10),HL,xF);
const yEF=bracket(yE,xE,yF,xF,xEF);
const yCE=bracket(yD,xD,yEF,xEF,xCE);
bracket(yAB,xAB,yCE,xCE,xRoot);

// ---------- Colorbar ----------
const grad = document.getElementById("zGradient");
for (let i=0;i<=20;i++){
  const z = 4.375 - i*(317/36.25)/20;
  mk("stop", grad, {offset:(i/20),"stop-color":zColor(z)});
}
const cbG = document.getElementById("colorbarTicks");
function cbY(v){ return 2536 - 36.25*v; }
colorbarTickValues.forEach((v,i)=>{
  [[2788,2798],[2827,2837]].forEach(p=>{
    const t = mk("line", cbG, {x1:p[0],x2:p[1],y1:cbY(v),y2:cbY(v),stroke:"#fff","stroke-width":3});
    
    
  });
  const l = mk("text", cbG, {x:2847,y:cbY(v)+18,"font-size":50,fill:"#333",textLength:colorbarTickLabels[i].length>1?32:20,lengthAdjust:"spacingAndGlyphs"});
  
  
  l.textContent = colorbarTickLabels[i];
});
</script>
</body>
</html>
